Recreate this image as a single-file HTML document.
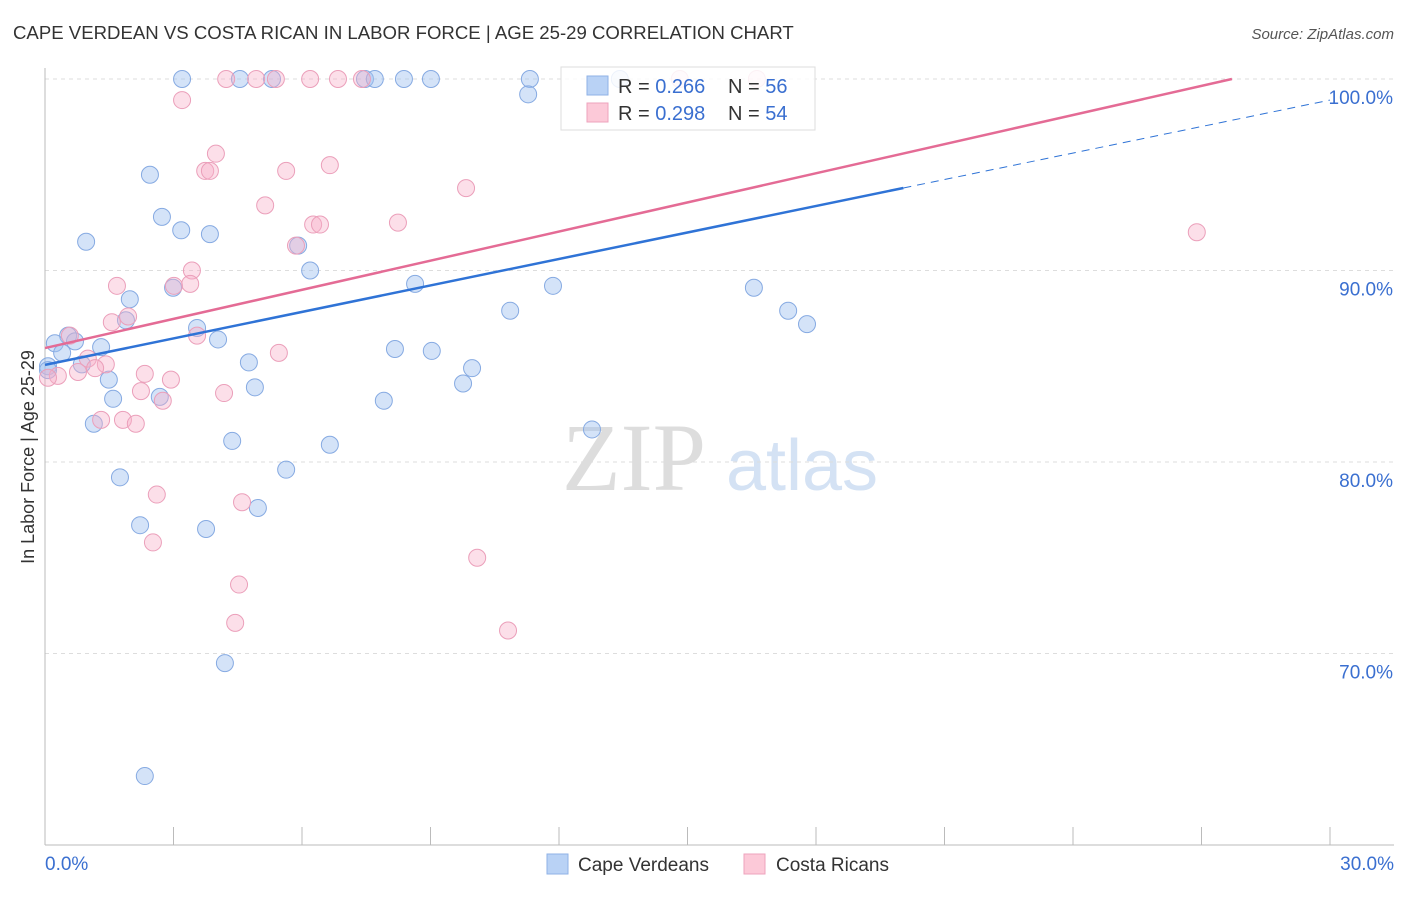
<!DOCTYPE html>
<html><head><meta charset="utf-8"><style>
body{margin:0;background:#fff;font-family:"Liberation Sans",sans-serif;}
</style></head><body>
<svg id="chart" width="1406" height="892" xmlns="http://www.w3.org/2000/svg" style="font-family:'Liberation Sans',sans-serif">
<text x="13" y="39" font-size="18.6" fill="#333">CAPE VERDEAN VS COSTA RICAN IN LABOR FORCE | AGE 25-29 CORRELATION CHART</text>
<text x="1394" y="39" font-size="15" fill="#555" font-style="italic" text-anchor="end">Source: ZipAtlas.com</text>
<g>
<text x="634" y="490" font-size="96" fill="#ddd" font-family="Liberation Serif,serif" text-anchor="middle">ZIP</text>
<text x="802" y="490" font-size="72" fill="#d4e2f4" text-anchor="middle">atlas</text>
</g>
<g id="grid"></g>
<g id="axes"></g>
<g id="marks"></g>
<g id="trends"></g>
<text transform="translate(34,457) rotate(-90)" font-size="18" fill="#333" text-anchor="middle">In Labor Force | Age 25-29</text>
<g>
<rect x="561" y="67" width="254" height="63" fill="rgba(255,255,255,0.85)" stroke="#ddd"/>
<rect x="587" y="76" width="21" height="19" fill="#b9d2f5" stroke="#8fb2e6"/>
<rect x="587" y="103" width="21" height="19" fill="#fcc9d8" stroke="#eea3bd"/>
<text x="618" y="93" font-size="20" fill="#333">R = <tspan fill="#3a6fd0">0.266</tspan></text>
<text x="728" y="93" font-size="20" fill="#333">N = <tspan fill="#3a6fd0">56</tspan></text>
<text x="618" y="120" font-size="20" fill="#333">R = <tspan fill="#3a6fd0">0.298</tspan></text>
<text x="728" y="120" font-size="20" fill="#333">N = <tspan fill="#3a6fd0">54</tspan></text>
</g>
<g>
<rect x="547" y="854" width="21" height="20" fill="#b9d2f5" stroke="#8fb2e6"/>
<text x="578" y="871" font-size="19" fill="#333">Cape Verdeans</text>
<rect x="744" y="854" width="21" height="20" fill="#fcc9d8" stroke="#eea3bd"/>
<text x="776" y="871" font-size="19" fill="#333">Costa Ricans</text>
</g>
</svg>
<script>
const yTicks=[100,90,80,70];
const yTickLabels=["100.0%","90.0%","80.0%","70.0%"];
const xTicks=[0,3,6,9,12,15,18,21,24,27,30];
const blueX=[3.20,4.55,5.30,7.47,7.70,8.38,9.01,11.32,11.28,13.42,2.45,2.73,0.96,3.18,3.85,6.19,8.64,11.86,16.55,17.35,17.79,10.86,1.98,2.99,1.89,3.55,4.04,0.54,0.70,0.23,0.40,1.31,8.17,9.03,4.76,0.86,0.07,1.49,9.97,9.76,4.90,1.59,2.68,7.91,1.14,4.37,6.65,12.77,5.63,1.75,4.97,2.22,3.76,4.20,2.33,5.91,0.07];
const blueY=[100,100,100,100,100,100,100,100,99.2,100,95.0,92.8,91.5,92.1,91.9,90.0,89.3,89.2,89.1,87.9,87.2,87.9,88.5,89.1,87.4,87.0,86.4,86.6,86.3,86.2,85.7,86.0,85.9,85.8,85.2,85.1,85.0,84.3,84.9,84.1,83.9,83.3,83.4,83.2,82.0,81.1,80.9,81.7,79.6,79.2,77.6,76.7,76.5,69.5,63.6,91.3,84.8];
const pinkX=[4.23,4.93,5.39,6.19,6.84,7.40,14.82,16.62,3.20,3.99,3.74,3.85,5.63,6.65,9.83,5.14,6.26,6.42,8.24,26.89,5.86,3.43,1.68,3.39,3.01,1.94,1.56,3.55,0.58,5.46,1.00,1.42,1.17,0.77,0.30,0.07,2.33,2.94,2.24,4.18,2.75,1.31,1.82,2.12,2.61,4.60,2.52,10.09,4.53,4.44,10.81];
const pinkY=[100,100,100,100,100,100,100,100,98.9,96.1,95.2,95.2,95.2,95.5,94.3,93.4,92.4,92.4,92.5,92.0,91.3,90.0,89.2,89.3,89.2,87.6,87.3,86.6,86.6,85.7,85.4,85.1,84.9,84.7,84.5,84.4,84.6,84.3,83.7,83.6,83.2,82.2,82.2,82.0,78.3,77.9,75.8,75.0,73.6,71.6,71.2];
const blueTrend=[85.07,98.9];
const pinkTrend=[85.95,100];
const X=v=>45+v/30*1285;
const Y=v=>79+(100-v)*19.15;
const NS="http://www.w3.org/2000/svg";
function mk(tag,attrs,parent){const e=document.createElementNS(NS,tag);for(const k in attrs)e.setAttribute(k,attrs[k]);parent.appendChild(e);return e;}
const grid=document.getElementById('grid'),axes=document.getElementById('axes'),marks=document.getElementById('marks'),trends=document.getElementById('trends');
yTicks.forEach((t,i)=>{
 const l=mk('line',{x1:45,x2:1394,y1:Y(t),y2:Y(t),stroke:'#ddd','stroke-dasharray':'4,4'},grid);
 
 
 const tx=mk('text',{x:1393,y:Y(t)+25,'font-size':19,fill:'#3a6fd0','text-anchor':'end'},axes);
 tx.textContent=yTickLabels[i];
 
 
});
const ya=mk('line',{x1:45,x2:45,y1:68,y2:845,stroke:'#bbb'},axes);


const xa=mk('line',{x1:45,x2:1394,y1:845,y2:845,stroke:'#bbb'},axes);


xTicks.forEach(t=>{const l=mk('line',{x1:X(t),x2:X(t),y1:827,y2:845,stroke:'#bbb'},axes);
 
 });
const x0=mk('text',{x:45,y:870,'font-size':19,fill:'#3a6fd0'},axes);x0.textContent='0.0%';


const x1=mk('text',{x:1394,y:870,'font-size':19,fill:'#3a6fd0','text-anchor':'end'},axes);x1.textContent='30.0%';


blueX.forEach((v,i)=>{const c=mk('circle',{cx:X(v),cy:Y(blueY[i]),r:8.5,fill:'rgba(160,192,240,0.45)',stroke:'#86aae2','stroke-width':1},marks);
 
 });
pinkX.forEach((v,i)=>{const c=mk('circle',{cx:X(v),cy:Y(pinkY[i]),r:8.5,fill:'rgba(248,175,200,0.4)',stroke:'#eb9fba','stroke-width':1},marks);
 
 });
const bSolidEnd=20.04;
const by=x=>blueTrend[0]+(blueTrend[1]-blueTrend[0])*x/30;
const b1=mk('line',{x1:X(0),y1:Y(by(0)),x2:X(bSolidEnd),y2:Y(by(bSolidEnd)),stroke:'#2f73d6','stroke-width':2.5},trends);


const b2=mk('line',{x1:X(bSolidEnd),y1:Y(by(bSolidEnd)),x2:X(30),y2:Y(by(30)),stroke:'#2f73d6','stroke-width':1,'stroke-dasharray':'8,6'},trends);


const pEnd=27.71;
const p=mk('line',{x1:X(0),y1:Y(pinkTrend[0]),x2:X(pEnd),y2:Y(pinkTrend[1]),stroke:'#e46b95','stroke-width':2.5},trends);


</script>
</body></html>
